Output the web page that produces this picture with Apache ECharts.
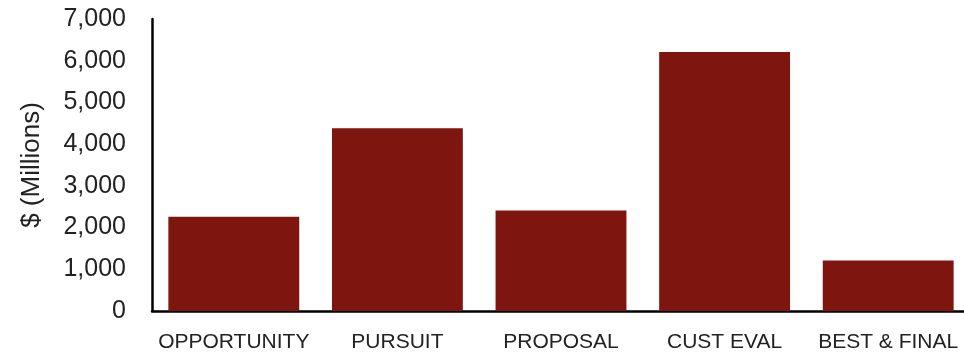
<!DOCTYPE html>
<html>
<head>
<meta charset="utf-8">
<script src="https://cdn.jsdelivr.net/npm/echarts@6/dist/echarts.min.js"></script>
<style>
  html, body { margin: 0; padding: 0; background: #fff; }
  #chart { width: 964px; height: 353px; }
</style>
</head>
<body>
<div id="chart"></div>
<script>
// stages and pipeline value ($ millions)
var stages = ['OPPORTUNITY', 'PURSUIT', 'PROPOSAL', 'CUST EVAL', 'BEST & FINAL'];
var values = [2260, 4380, 2410, 6210, 1210];

var chart = echarts.init(document.getElementById('chart'));

var option = {
  animation: false,
  grid: {
    left: 152,
    top: 19,
    width: 818,
    height: 292,
    outerBoundsMode: 'none'
  },
  xAxis: {
    type: 'category',
    data: stages,
    axisLine: { lineStyle: { color: '#000', width: 2.5 } },
    axisTick: { show: false },
    axisLabel: {
      interval: 0,
      color: '#222',
      fontFamily: 'Liberation Sans',
      fontSize: 21,
      margin: 21
    }
  },
  yAxis: {
    type: 'value',
    min: 0,
    max: 7000,
    interval: 1000,
    name: '$ (Millions)',
    nameLocation: 'middle',
    nameGap: 107,
    nameTextStyle: {
      color: '#222',
      fontFamily: 'Liberation Sans',
      fontSize: 26
    },
    axisLine: { show: true, lineStyle: { color: '#000', width: 2.5 } },
    axisTick: { show: false },
    splitLine: { show: false },
    axisLabel: {
      color: '#222',
      fontFamily: 'Liberation Sans',
      fontSize: 25,
      margin: 26,
      formatter: function (v) { return v.toLocaleString('en-US'); }
    }
  },
  series: [{
    type: 'bar',
    data: values,
    barWidth: '80%',
    itemStyle: { color: '#7E160F' }
  }]
};

chart.setOption(option);
</script>
</body>
</html>
